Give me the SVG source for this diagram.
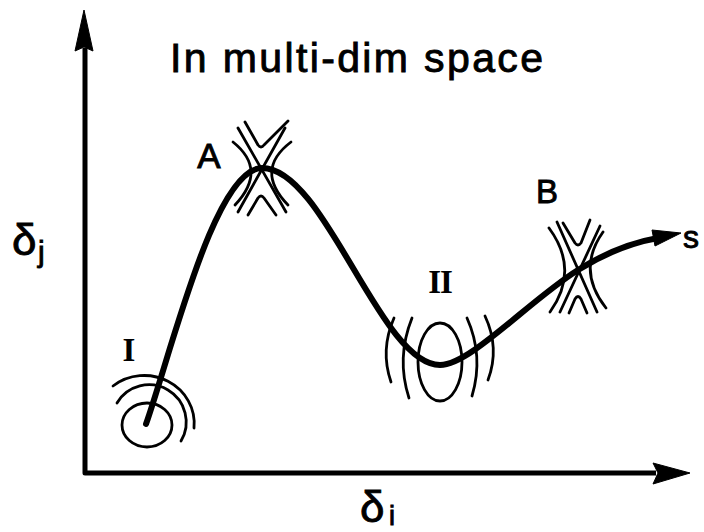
<svg xmlns="http://www.w3.org/2000/svg" width="704" height="532" viewBox="0 0 704 532">
<style>
.bg{fill:#fff}
.ax{fill:none;stroke:#000;stroke-width:5;stroke-linejoin:round}
.ah{fill:#000;stroke:#000;stroke-width:1;stroke-linejoin:round}
.ct{fill:none;stroke:#000;stroke-width:2.8;stroke-linecap:round;stroke-linejoin:round}
.path{fill:none;stroke:#000;stroke-width:6;stroke-linecap:round}
.sans{font-family:"Liberation Sans",Arial,sans-serif;fill:#000;stroke:#000;stroke-width:0.9}
.serif{font-family:"Liberation Serif","Times New Roman",serif;font-weight:bold;fill:#000}
</style>
<rect class="bg" x="0" y="0" width="704" height="532"/>

<g id="axes">
  <path class="ax" d="M85,48 L85,473 L656,473"/>
  <polygon class="ah" points="84,10 93,51 84,47 75,51"/>
  <polygon class="ah" points="690,473 653,463 658,473 653,484"/>
  <text class="sans" x="12" y="255" font-size="44">δ</text>
  <text class="sans" x="38" y="262" font-size="30">j</text>
  <text class="sans" x="360" y="522" font-size="44">δ</text>
  <text class="sans" x="389" y="525" font-size="27">i</text>
</g>

<text id="title" class="sans" x="170" y="72" font-size="41" textLength="373" lengthAdjust="spacing">In multi-dim space</text>

<g id="state-I">
  <ellipse class="ct" cx="147" cy="425" rx="25" ry="22"/>
  <path class="ct" d="M117,403 A37,37 0 0 1 181,441"/>
  <path class="ct" d="M113,386 A50,48 0 0 1 194,428"/>
  <text class="serif" x="129" y="361" font-size="33" text-anchor="middle">I</text>
</g>

<g id="saddle-A">
  <path class="ct" d="M245,122 L258,145 Q261,149 264,145 L288,121"/>
  <path class="ct" d="M248,215 L258,198 Q261,194 264,198 L276,215"/>
  <path class="ct" d="M238,128 L286,212"/>
  <path class="ct" d="M285,128 L238,212"/>
  <path class="ct" d="M233,142 Q268,170 235,205"/>
  <path class="ct" d="M291,142 Q254,170 288,205"/>
  <text class="sans" x="209" y="168" font-size="35" text-anchor="middle">A</text>
</g>

<g id="state-II">
  <ellipse class="ct" cx="440" cy="362" rx="22" ry="39"/>
  <path class="ct" d="M394,318 Q380,350 391,382"/>
  <path class="ct" d="M412,318 Q396,358 409,398"/>
  <path class="ct" d="M467,318 Q484,356 472,396"/>
  <path class="ct" d="M485,316 Q500,348 488,380"/>
  <text class="serif" x="440" y="293" font-size="33" text-anchor="middle" letter-spacing="-1">II</text>
</g>

<g id="saddle-B">
  <path class="ct" d="M563,223 L575,243 Q578,247 581,243 L590,220"/>
  <path class="ct" d="M569,313 L575,299 Q578,294 581,299 L587,313"/>
  <path class="ct" d="M557,222 L597,312"/>
  <path class="ct" d="M600,226 L560,312"/>
  <path class="ct" d="M549,228 Q580,270 550,312"/>
  <path class="ct" d="M603,232 Q576,270 606,308"/>
  <text class="sans" x="547" y="203" font-size="33" text-anchor="middle">B</text>
</g>

<g id="connectors">
  <path class="path" d="M146,424 C172,350 215,168 262,168 C325,168 380,365 440,365 C470,365 530,300 578,270 C610,250 635,242 658,238"/>
  <polygon class="ah" points="681,233 652,230 655,246"/>
  <text class="sans" x="683" y="248" font-size="32">s</text>
</g>
</svg>
